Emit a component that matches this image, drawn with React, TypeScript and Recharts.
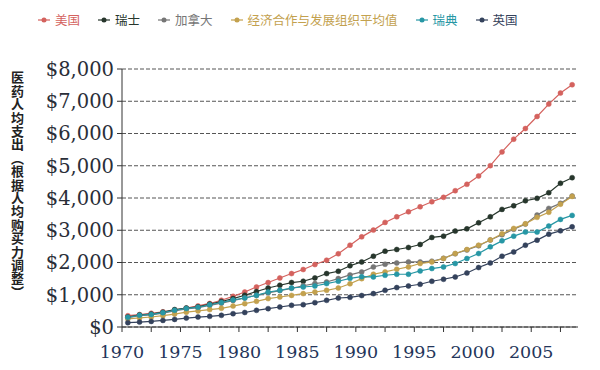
import React from 'react';
import { LineChart, Line, XAxis, YAxis, CartesianGrid } from 'recharts';

const years = Array.from({ length: 39 }, (_, i) => 1970 + i);

// per-capita health spending, PPP-adjusted
const usa = [350, 385, 425, 470, 520, 585, 655, 730, 830, 950, 1085, 1241, 1378, 1521, 1657, 1782, 1937, 2071, 2270, 2537, 2795, 3004, 3243, 3417, 3573, 3728, 3884, 4020, 4226, 4425, 4683, 5003, 5430, 5824, 6154, 6527, 6912, 7254, 7512];
const swiss = [310, 375, 400, 460, 540, 590, 625, 710, 790, 880, 983, 1100, 1210, 1294, 1378, 1418, 1521, 1657, 1729, 1900, 2018, 2195, 2351, 2403, 2466, 2559, 2777, 2817, 2973, 3044, 3231, 3417, 3647, 3759, 3915, 3989, 4164, 4456, 4630];
const canada = [290, 350, 375, 430, 500, 560, 600, 670, 740, 820, 900, 980, 1060, 1130, 1200, 1280, 1346, 1396, 1502, 1615, 1707, 1863, 1946, 1987, 2018, 2018, 2040, 2130, 2270, 2390, 2520, 2700, 2860, 3030, 3190, 3470, 3678, 3834, 4061];
const oecd = [250, 280, 310, 350, 400, 460, 500, 540, 580, 650, 724, 796, 880, 930, 980, 1035, 1085, 1138, 1210, 1340, 1500, 1636, 1707, 1791, 1863, 1968, 2018, 2124, 2279, 2403, 2537, 2700, 2890, 3057, 3200, 3400, 3557, 3808, 4050];
const sweden = [300, 365, 390, 445, 520, 575, 610, 690, 760, 840, 900, 983, 1085, 1138, 1210, 1241, 1272, 1346, 1418, 1510, 1560, 1552, 1604, 1636, 1636, 1738, 1813, 1863, 1968, 2124, 2279, 2485, 2671, 2817, 2942, 2942, 3128, 3336, 3461];
const uk = [134, 152, 174, 205, 236, 277, 308, 330, 361, 413, 450, 516, 569, 620, 672, 693, 755, 827, 899, 920, 975, 1035, 1138, 1222, 1272, 1325, 1418, 1480, 1552, 1676, 1844, 1987, 2195, 2329, 2537, 2693, 2879, 2982, 3106];

const yTicks = [0, 1000, 2000, 3000, 4000, 5000, 6000, 7000, 8000];
const xTicks = [1970, 1972.5, 1975, 1977.5, 1980, 1982.5, 1985, 1987.5, 1990, 1992.5, 1995, 1997.5, 2000, 2002.5, 2005, 2007.5];

const yTitle = '医药人均支出（根据人均购买力调整）';

const series = [
  { key: 'usa', name: '美国', color: '#d4625e', values: usa },
  { key: 'swiss', name: '瑞士', color: '#27362c', values: swiss },
  { key: 'canada', name: '加拿大', color: '#767676', values: canada },
  { key: 'oecd', name: '经济合作与发展组织平均值', color: '#c3a14e', values: oecd },
  { key: 'sweden', name: '瑞典', color: '#2797a5', values: sweden },
  { key: 'uk', name: '英国', color: '#34425c', values: uk },
];

// each year sits in the middle of its band
const data = years.map((y, i) => {
  const row: Record<string, number> = { x: y + 0.5 };
  series.forEach(s => { row[s.key] = s.values[i]; });
  return row;
});

const App: React.FC = () => {
  return (
    <div style={{ position: 'absolute', left: 0, top: 0, width: 600, height: 370, background: '#fff' }}>
      {/* legend */}
      <div style={{ position: 'absolute', left: 38, top: 10, display: 'flex', gap: 18, fontFamily: '"Noto Sans CJK SC"', fontSize: 12.5 }}>
        {series.map(s => (
          <div key={s.key} style={{ display: 'flex', alignItems: 'center', color: s.color }}>
            <svg width={12} height={10} style={{ marginRight: 5 }}>
              <line x1={0} y1={5} x2={12} y2={5} stroke={s.color} strokeWidth={1.2} />
              <circle cx={6} cy={5} r={2.5} fill={s.color} />
            </svg>
            <span>{s.name}</span>
          </div>
        ))}
      </div>

      {/* y axis title, vertical */}
      <div style={{ position: 'absolute', left: 7, top: 71, writingMode: 'vertical-rl', fontFamily: '"Noto Sans CJK SC"', fontWeight: 700, fontSize: 13, letterSpacing: 0.4, lineHeight: '20px', color: '#222' }}>
        {yTitle}
      </div>

      <LineChart width={600} height={370} data={data} margin={{ top: 69, right: 22, bottom: 3, left: 0 }}>
        <CartesianGrid horizontal vertical={false} stroke="#555" strokeDasharray="4 2" />
        <XAxis
          dataKey="x"
          type="number"
          domain={[1970, 2009]}
          ticks={xTicks}
          height={40}
          tickSize={5}
          tickMargin={14}
          stroke="#333"
          tick={{ fill: '#24355a', fontFamily: '"DejaVu Serif"', fontSize: 17.5 }}
          tickFormatter={(v: number) => (v % 5 === 0 ? String(v) : '')}
          interval={0}
        />
        <YAxis
          domain={[0, 8000]}
          ticks={yTicks}
          width={122}
          tickSize={5}
          tickMargin={3}
          stroke="#333"
          tick={{ fill: '#2a2e38', fontFamily: '"DejaVu Serif"', fontSize: 19.5 }}
          tickFormatter={(v: number) => `$${v.toLocaleString('en-US')}`}
          interval={0}
        />
        {series.map(s => (
          <Line
            key={s.key}
            dataKey={s.key}
            name={s.name}
            stroke={s.color}
            strokeWidth={1.2}
            dot={{ r: 2.5, fill: s.color, stroke: s.color, strokeWidth: 0.5 }}
            isAnimationActive={false}
          />
        ))}
      </LineChart>
    </div>
  );
};

export default App;
